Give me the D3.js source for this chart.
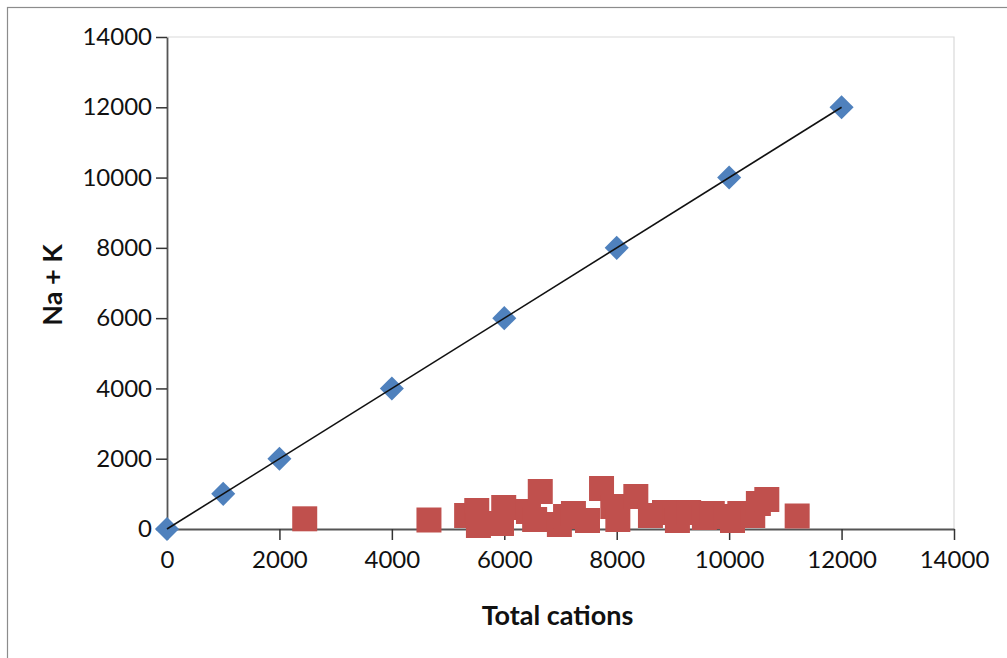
<!DOCTYPE html>
<html><head><meta charset="utf-8">
<script src="https://cdn.jsdelivr.net/npm/d3@7"></script>
<style>
body{margin:0;background:#fff;}
text{font-family:Lato,"Open Sans",sans-serif;fill:#111;}
</style></head>
<body><svg id="c" width="1007" height="658"></svg>
<script>
const tickValues = [0,2000,4000,6000,8000,10000,12000,14000];
const lineX = [0,12000];
const lineY = [0,12000];
const blueX = [0,1000,2000,4000,6000,8000,10000,12000];
const blueY = [0,1000,2000,4000,6000,8000,10000,12000];
const redX = [2450,4660,5330,5510,5540,5990,5950,6430,6640,6540,6980,7090,7230,7480,7730,7930,8020,8340,8850,8600,9080,9280,9560,9700,9940,10060,10190,10420,10520,10670,11210];
const redY = [290,256,384,526,100,612,157,498,1067,270,128,356,441,242,1152,640,270,925,470,384,242,470,327,441,356,242,441,384,726,840,370];
const xTitle = "Total cations";
const yTitle = "Na + K";

const svg = d3.select("#c");
const L=167,R=954,T=37,B=529;
svg.append("rect").attr("x",7.5).attr("y",7.5).attr("width",1100).attr("height",700)
  .attr("fill","#fff").attr("stroke","#8c8c8c").attr("stroke-width",1.2);

const x=d3.scaleLinear().domain([0,14000]).range([L,R]);
const y=d3.scaleLinear().domain([0,14000]).range([B,T]);

svg.append("path").attr("d",`M${L},${T}H${R}V${B}`).attr("fill","none").attr("stroke","#d9d9d9").attr("stroke-width",1.2);

const fs=24;
const xa=svg.append("g").attr("transform",`translate(0,${B})`)
  .call(d3.axisBottom(x).tickValues(tickValues).tickSize(11).tickSizeOuter(0).tickPadding(11).tickFormat(d3.format("d")));
const ya=svg.append("g").attr("transform",`translate(${L},0)`)
  .call(d3.axisLeft(y).tickValues(tickValues).tickSize(11).tickSizeOuter(0).tickPadding(4).tickFormat(d3.format("d")));
[xa,ya].forEach(g=>{
  g.select(".domain").attr("stroke","#555").attr("stroke-width",1.8);
  g.selectAll(".tick line").attr("stroke","#333").attr("stroke-width",1.5);
  g.selectAll(".tick text").attr("font-family","Lato").attr("font-size",fs).attr("fill","#111");
});

svg.append("g").selectAll("path").data(blueX).join("path")
  .attr("d",d3.symbol(d3.symbolSquare,290))
  .attr("transform",(d,i)=>`translate(${x(d)},${y(blueY[i])}) rotate(45)`)
  .attr("fill","#4f81bd");

svg.append("path").datum(lineX.map((d,i)=>[d,lineY[i]]))
  .attr("d",d3.line().x(d=>x(d[0])).y(d=>y(d[1])))
  .attr("stroke","#111").attr("stroke-width",1.6).attr("fill","none");

svg.append("g").selectAll("path").data(redX).join("path")
  .attr("d",d3.symbol(d3.symbolSquare,625))
  .attr("transform",(d,i)=>`translate(${x(d)},${y(redY[i])})`)
  .attr("fill","#c0504d");

svg.append("text").attr("x",(L+R)/2-3).attr("y",625).attr("text-anchor","middle")
  .attr("font-weight","bold").attr("font-size",27).text(xTitle);
svg.append("text").attr("transform",`translate(62,${(T+B)/2+2}) rotate(-90)`).attr("text-anchor","middle")
  .attr("font-weight","bold").attr("font-size",27).text(yTitle);
</script></body></html>
